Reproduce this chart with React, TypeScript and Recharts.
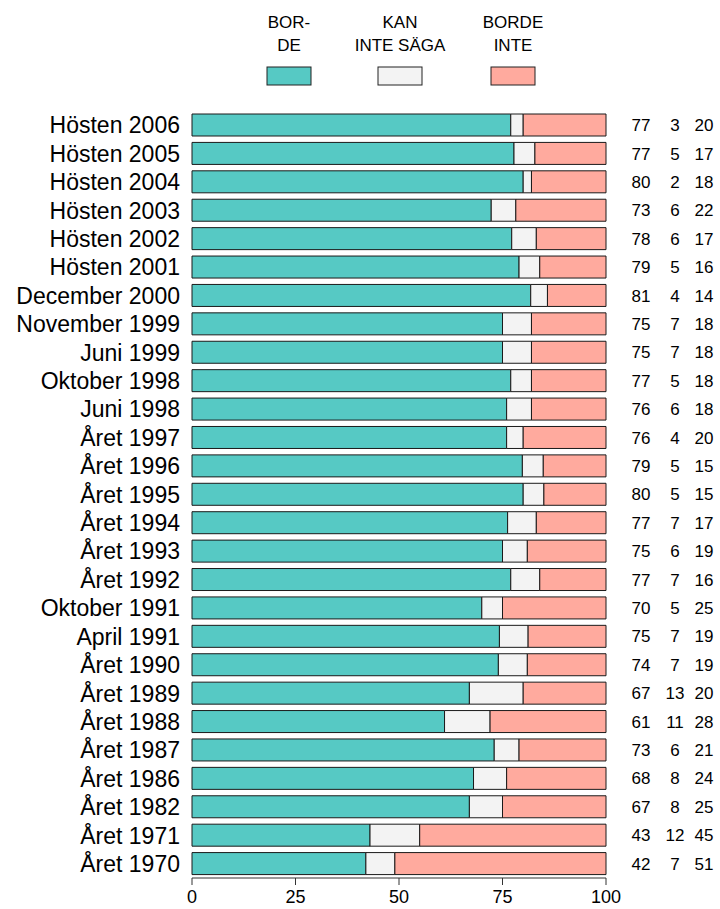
import { BarChart, Bar, XAxis, YAxis, LabelList } from "recharts";

const categories = [
  "Hösten 2006", "Hösten 2005", "Hösten 2004", "Hösten 2003", "Hösten 2002",
  "Hösten 2001", "December 2000", "November 1999", "Juni 1999", "Oktober 1998",
  "Juni 1998", "Året 1997", "Året 1996", "Året 1995", "Året 1994", "Året 1993",
  "Året 1992", "Oktober 1991", "April 1991", "Året 1990", "Året 1989",
  "Året 1988", "Året 1987", "Året 1986", "Året 1982", "Året 1971", "Året 1970",
];
const borde = [77, 77, 80, 73, 78, 79, 81, 75, 75, 77, 76, 76, 79, 80, 77, 75, 77, 70, 75, 74, 67, 61, 73, 68, 67, 43, 42];
const kanInteSaga = [3, 5, 2, 6, 6, 5, 4, 7, 7, 5, 6, 4, 5, 5, 7, 6, 7, 5, 7, 7, 13, 11, 6, 8, 8, 12, 7];
const bordeInte = [20, 17, 18, 22, 17, 16, 14, 18, 18, 18, 18, 20, 15, 15, 17, 19, 16, 25, 19, 19, 20, 28, 21, 24, 25, 45, 51];
const xTicks = [0, 0.25, 0.5, 0.75, 1];

const series = [
  { key: "borde", lines: ["BOR-", "DE"], color: "#56C9C4", cx: 289 },
  { key: "kanInteSaga", lines: ["KAN", "INTE SÄGA"], color: "#F3F3F3", cx: 400 },
  { key: "bordeInte", lines: ["BORDE", "INTE"], color: "#FFAA9E", cx: 513 },
];

const data = categories.map((name, i) => ({
  name,
  borde: borde[i],
  kanInteSaga: kanInteSaga[i],
  bordeInte: bordeInte[i],
}));

const FONT = "Liberation Sans, Arial, sans-serif";

function RowNumbers(props: any) {
  const { x, y, width, height, value } = props;
  const parts = String(value).split("|");
  const end = Number(x) + Number(width);
  const cy = Number(y) + Number(height) / 2;
  const offsets = [35, 69, 98];
  return (
    <g>
      {parts.map((p, i) => (
        <text
          key={i}
          x={end + offsets[i]}
          y={cy}
          dy="0.36em"
          textAnchor="middle"
          fontSize={17}
          fontFamily={FONT}
          fill="#000"
        >
          {p}
        </text>
      ))}
    </g>
  );
}

function LegendOverlay() {
  return (
    <svg
      width={720}
      height={100}
      style={{ position: "absolute", left: 0, top: 0, pointerEvents: "none" }}
    >
      {series.map((s) => (
        <g key={s.key}>
          {s.lines.map((l, j) => (
            <text
              key={j}
              x={s.cx}
              y={28 + j * 23}
              textAnchor="middle"
              fontSize={17}
              fontFamily={FONT}
              fill="#000"
            >
              {l}
            </text>
          ))}
          <rect x={s.cx - 22} y={67} width={44} height={18} fill={s.color} stroke="#222" />
        </g>
      ))}
    </svg>
  );
}

export default function App() {
  return (
    <div style={{ position: "absolute", left: 0, top: 0, width: 720, height: 909, background: "#fff" }}>
      <BarChart
        width={720}
        height={909}
        data={data}
        layout="vertical"
        stackOffset="expand"
        barSize={22}
        margin={{ top: 111, right: 114, bottom: 0, left: 0 }}
      >
        <XAxis
          type="number"
          domain={[0, 1]}
          ticks={xTicks}
          tickFormatter={(v: number) => String(Math.round(v * 100))}
          height={31}
          stroke="#333"
          tickSize={7}
          tickMargin={5}
          tick={{ fontSize: 18, fill: "#000", fontFamily: FONT }}
        />
        <YAxis
          type="category"
          dataKey="name"
          width={192}
          axisLine={false}
          tickLine={false}
          tickSize={0}
          tickMargin={12}
          interval={0}
          tick={{ fontSize: 23, fill: "#000", fontFamily: FONT }}
        />
        <Bar dataKey="borde" stackId="a" fill={series[0].color} stroke="#1a1a1a" isAnimationActive={false} />
        <Bar dataKey="kanInteSaga" stackId="a" fill={series[1].color} stroke="#1a1a1a" isAnimationActive={false} />
        <Bar dataKey="bordeInte" stackId="a" fill={series[2].color} stroke="#1a1a1a" isAnimationActive={false}>
          <LabelList
            dataKey={(d: any) => `${d.borde}|${d.kanInteSaga}|${d.bordeInte}`}
            content={RowNumbers}
          />
        </Bar>
      </BarChart>
      <LegendOverlay />
    </div>
  );
}
